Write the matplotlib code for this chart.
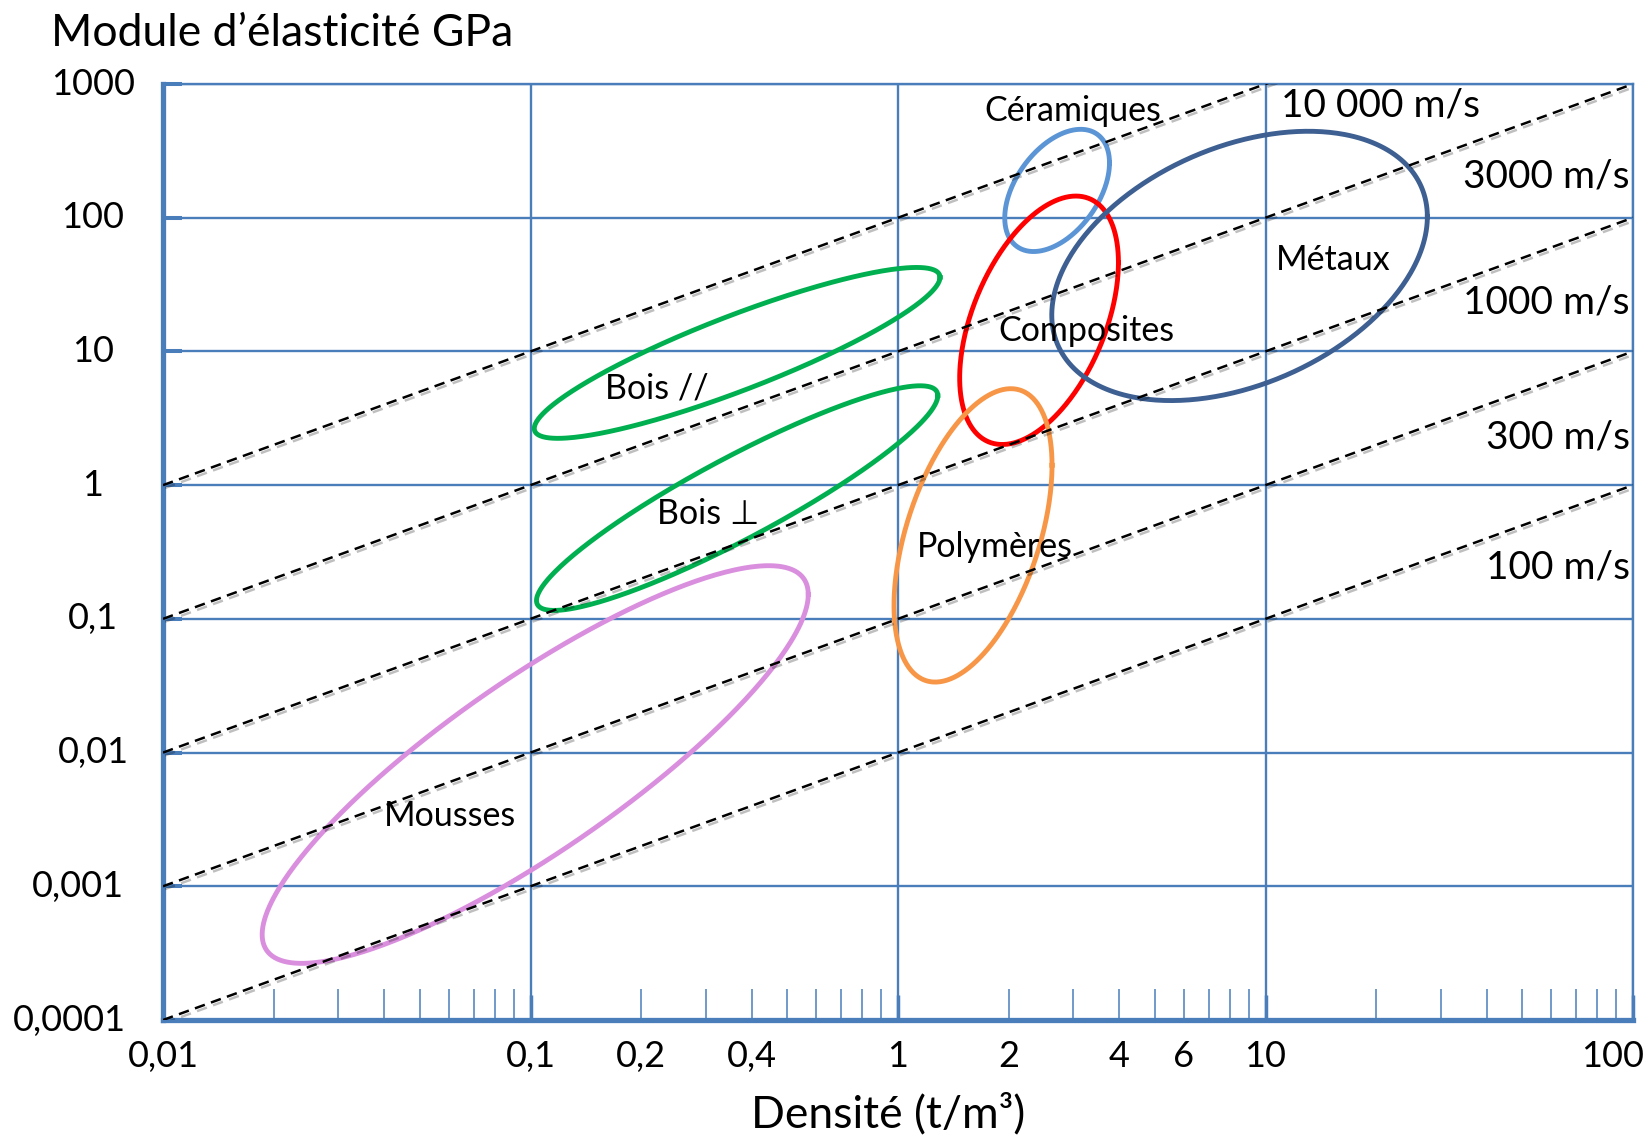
# Diagramme d'Ashby : module d'élasticité vs densité, lignes iso-vitesse du son

import numpy as np
import matplotlib.pyplot as plt
from matplotlib import patheffects
from matplotlib.transforms import blended_transform_factory

plt.rcParams['font.family'] = ['Lato', 'DejaVu Sans']

# familles de matériaux (ellipses en échelle log : centre, demi-étendues en décades, inclinaison)
materials = ['Céramiques', 'Composites', 'Métaux', 'Bois //', 'Bois \u22a5', 'Polymères', 'Mousses']
colors = ['#5b95d5', '#ff0000', '#3d5f91', '#00b050', '#00b050', '#f79646', '#da8fde']
rho_center = [2.71, 2.42, 8.5, 0.365, 0.365, 1.60, 0.103]
E_center = [160, 17.1, 43.6, 9.75, 0.80, 0.421, 0.00814]
half_width = [0.1425, 0.216, 0.511, 0.552, 0.546, 0.215, 0.743]
half_height = [0.457, 0.929, 1.007, 0.639, 0.840, 1.097, 1.487]
tilt = [0.45, 0.464, 0.365, 0.884, 0.912, 0.478, 0.855]
label_rho = [2.99, 3.26, 15.3, 0.221, 0.305, 1.83, 0.0602]
label_E = [625, 14.2, 47.9, 5.26, 0.608, 0.346, 0.00334]

# lignes E = k * rho
speeds = ['10 000 m/s', '3000 m/s', '1000 m/s', '300 m/s', '100 m/s']
k_line = [100, 10, 1, 0.1, 0.01]
speed_rho = [20.6, 98, 98, 98, 98]
speed_E = [692, 202, 23.3, 2.28, 0.241]

x_ticks = [0.01, 0.1, 0.2, 0.4, 1, 2, 4, 6, 10, 100]
x_labels = ['0,01', '0,1', '0,2', '0,4', '1', '2', '4', '6', '10', '100']
y_ticks = [1000, 100, 10, 1, 0.1, 0.01, 0.001, 0.0001]
y_labels = ['1000', '100', '10', '1', '0,1', '0,01', '0,001', '0,0001']

blue = '#4a7ebb'

fig = plt.figure(figsize=(16.52, 11.46), dpi=100)
ax = fig.add_axes([163 / 1652, 1 - 1020 / 1146, 1470 / 1652, 936 / 1146])
ax.set_xscale('log')
ax.set_yscale('log')
ax.set_xlim(0.01, 100)
ax.set_ylim(0.0001, 1000)

ax.grid(True, which='major', color=blue, lw=1.7)
ax.set_axisbelow(True)
for s in ['left', 'bottom']:
    ax.spines[s].set_color(blue)
    ax.spines[s].set_linewidth(3.8)
for s in ['top', 'right']:
    ax.spines[s].set_color(blue)
    ax.spines[s].set_linewidth(1.7)

ax.set_xticks([0.01, 0.1, 1, 10, 100])
ax.set_xticks([m * 10.0 ** e for e in range(-2, 2) for m in range(2, 10)], minor=True)
ax.set_yticks(y_ticks)
ax.yaxis.set_minor_locator(plt.NullLocator())
ax.tick_params(labelbottom=False, labelleft=False)
ax.xaxis.set_tick_params(which='major', direction='in', length=18, width=2.5, color=blue)
ax.xaxis.set_tick_params(which='minor', direction='in', length=22, width=1.1, color=blue)
ax.yaxis.set_tick_params(which='major', direction='in', length=14, width=2.9, color=blue)

# ellipses
t = np.linspace(0, 2 * np.pi, 400)
for i in range(len(materials)):
    phi = np.arccos(tilt[i])
    lx = np.log10(rho_center[i]) + half_width[i] * np.cos(t)
    ly = np.log10(E_center[i]) + half_height[i] * np.cos(t - phi)
    ax.plot(10 ** lx, 10 ** ly, color=colors[i], lw=3.5, zorder=3)
    ax.text(label_rho[i], label_E[i], materials[i], fontsize=24.5,
            ha='center', va='center', zorder=4)

# lignes iso-vitesse
rho = np.array([0.01, 100])
shadow = [patheffects.SimpleLineShadow(offset=(1.5, -2), alpha=0.25), patheffects.Normal()]
for k in k_line:
    ax.plot(rho, k * rho, color='black', lw=1.8, dashes=(4.2, 2.6), zorder=5,
            path_effects=shadow)
for i, s in enumerate(speeds):
    ax.text(speed_rho[i], speed_E[i], s, fontsize=28, zorder=4,
            ha='center' if i == 0 else 'right', va='center')

# étiquettes des axes
xtr = blended_transform_factory(ax.transData, ax.transAxes)
for v, lab in zip(x_ticks, x_labels):
    ha = 'center'
    xx = v
    if v == 100:
        ha = 'right'
        xx = 10 ** (2 + 11 / 367.5)
    ax.text(xx, -0.0395, lab, transform=xtr, fontsize=26, ha=ha, va='center',
            clip_on=False)

ytr = blended_transform_factory(ax.transAxes, ax.transData)
for v, lab in zip(y_ticks, y_labels):
    if lab == '0,0001':
        ax.text((13 - 163) / 1470, v, lab, transform=ytr, fontsize=26,
                ha='left', va='center', clip_on=False)
    elif lab == '0,001':
        ax.text((32 - 163) / 1470, v, lab, transform=ytr, fontsize=26,
                ha='left', va='center', clip_on=False)
    else:
        ax.text((93 - 163) / 1470, v, lab, transform=ytr, fontsize=26,
                ha='center', va='center', clip_on=False)

fig.text(51 / 1652, 1 - 34 / 1146, 'Module d\u2019élasticité GPa', fontsize=32,
         ha='left', va='center')
fig.text(888 / 1652, 1 - 1114 / 1146, 'Densité (t/m³)', fontsize=32,
         ha='center', va='center')

fig.savefig('out.png', dpi=100)
